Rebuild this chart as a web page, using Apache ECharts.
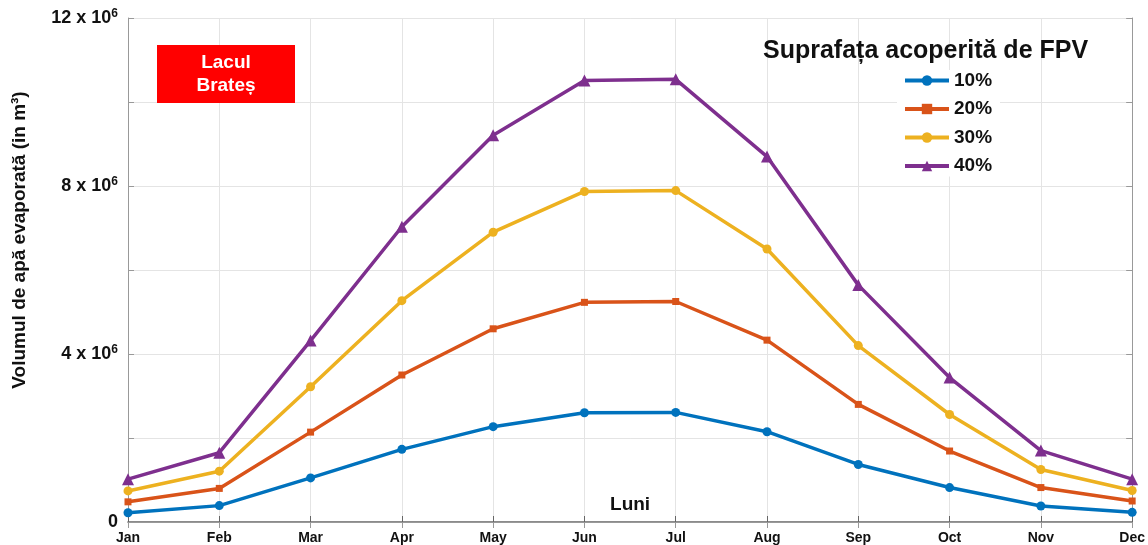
<!DOCTYPE html>
<html>
<head>
<meta charset="utf-8">
<script src="https://cdn.jsdelivr.net/npm/echarts@6/dist/echarts.min.js"></script>
<style>
  html, body { margin: 0; padding: 0; background: #fff; }
  #chart { width: 1148px; height: 545px; }
</style>
</head>
<body>
<div id="chart"></div>
<script>
var months = ['Jan', 'Feb', 'Mar', 'Apr', 'May', 'Jun', 'Jul', 'Aug', 'Sep', 'Oct', 'Nov', 'Dec'];
var seriesNames = ['10%', '20%', '30%', '40%'];
// volum de apa evaporata, m3
var cov10 = [0.22e6, 0.39e6, 1.05e6, 1.73e6, 2.27e6, 2.60e6, 2.61e6, 2.15e6, 1.37e6, 0.82e6, 0.38e6, 0.23e6];
var cov20 = [0.48e6, 0.80e6, 2.14e6, 3.50e6, 4.60e6, 5.23e6, 5.25e6, 4.33e6, 2.80e6, 1.69e6, 0.82e6, 0.50e6];
var cov30 = [0.74e6, 1.21e6, 3.22e6, 5.27e6, 6.90e6, 7.87e6, 7.89e6, 6.50e6, 4.20e6, 2.56e6, 1.25e6, 0.75e6];
var cov40 = [1.02e6, 1.65e6, 4.32e6, 7.03e6, 9.21e6, 10.51e6, 10.54e6, 8.70e6, 5.64e6, 3.44e6, 1.70e6, 1.02e6];

var colors = ['#0072BD', '#D95319', '#EDB120', '#7E2F8E'];
var symbols = ['circle', 'rect', 'circle', 'triangle'];
var symSizes = [9, 7, 9, 12];
var allData = [cov10, cov20, cov30, cov40];
var font = 'Liberation Sans, Arial, sans-serif';

var myChart = echarts.init(document.getElementById('chart'));

var series = allData.map(function (d, i) {
    return {
        name: seriesNames[i],
        type: 'line',
        data: d,
        symbol: symbols[i],
        symbolSize: symSizes[i],
        color: colors[i],
        lineStyle: { width: 3.5 },
        itemStyle: { color: colors[i] },
        z: 3 + i
    };
});

var option = {
    animation: false,
    grid: { left: 128, right: 12, top: 18, bottom: 23 },
    title: {
        text: 'Suprafața acoperită de FPV',
        left: 758,
        top: 34,
        textStyle: { fontFamily: font, fontWeight: 'bold', fontSize: 25, color: '#111' }
    },
    legend: {
        data: seriesNames,
        orient: 'vertical',
        left: 897,
        top: 70,
        itemWidth: 44,
        itemHeight: 13,
        itemGap: 7.5,
        padding: [0, 8, 0, 6],
        backgroundColor: '#fff',
        lineStyle: { width: 4 },
        textStyle: { fontFamily: font, fontWeight: 'bold', fontSize: 19, lineHeight: 21, color: '#111' }
    },
    xAxis: [{
        type: 'category',
        data: months,
        boundaryGap: false,
        name: 'Luni',
        nameLocation: 'middle',
        nameGap: -27,
        nameTextStyle: { fontFamily: font, fontWeight: 'bold', fontSize: 19, color: '#111' },
        axisLine: { lineStyle: { color: '#666', width: 1.5 } },
        axisTick: { inside: true, length: 6, lineStyle: { color: '#666' } },
        axisLabel: { fontFamily: font, fontWeight: 'bold', fontSize: 14, color: '#111', margin: 9 },
        splitLine: { show: true, lineStyle: { color: '#e4e4e4' } }
    }, {
        type: 'category',
        data: months,
        boundaryGap: false,
        position: 'top',
        axisLine: { lineStyle: { color: '#999' } },
        axisTick: { inside: true, length: 6, lineStyle: { color: '#999' } },
        axisLabel: { show: false }
    }],
    yAxis: [{
        type: 'value',
        min: 0,
        max: 12e6,
        interval: 2e6,
        axisLine: { show: true, lineStyle: { color: '#999' } },
        axisTick: { show: true, inside: true, length: 6, lineStyle: { color: '#999' } },
        axisLabel: {
            margin: 10,
            color: '#111',
            formatter: function (v) {
                if (v === 0) return '{b|0}';
                if (v % 4e6 !== 0) return '';
                return '{b|' + (v / 1e6) + ' x 10}{s|6}';
            },
            rich: {
                b: { fontFamily: font, fontWeight: 'bold', fontSize: 18, color: '#111' },
                s: { fontFamily: font, fontWeight: 'bold', fontSize: 12, color: '#111', verticalAlign: 'top', padding: [0, 0, 8, 0] }
            }
        },
        splitLine: { show: true, lineStyle: { color: '#e4e4e4' } }
    }, {
        type: 'value',
        min: 0,
        max: 12e6,
        interval: 2e6,
        position: 'right',
        axisLine: { show: true, lineStyle: { color: '#999' } },
        axisTick: { show: true, inside: true, length: 6, lineStyle: { color: '#999' } },
        axisLabel: { show: false },
        splitLine: { show: false }
    }],
    graphic: [{
        type: 'text',
        x: 20,
        y: 240,
        rotation: Math.PI / 2,
        style: {
            text: 'Volumul de apă evaporată (in m³)',
            align: 'center',
            verticalAlign: 'middle',
            fontFamily: font,
            fontWeight: 'bold',
            fontSize: 19,
            fill: '#111'
        }
    }, {
        type: 'rect',
        shape: { x: 157, y: 45, width: 138, height: 58 },
        style: { fill: '#ff0000' },
        z: 10
    }, {
        type: 'text',
        x: 226,
        y: 74,
        z: 11,
        style: {
            text: 'Lacul\nBrateș',
            align: 'center',
            verticalAlign: 'middle',
            lineHeight: 23,
            fontFamily: font,
            fontWeight: 'bold',
            fontSize: 19,
            fill: '#fff'
        }
    }],
    series: series
};
myChart.setOption(option);
</script>
</body>
</html>
